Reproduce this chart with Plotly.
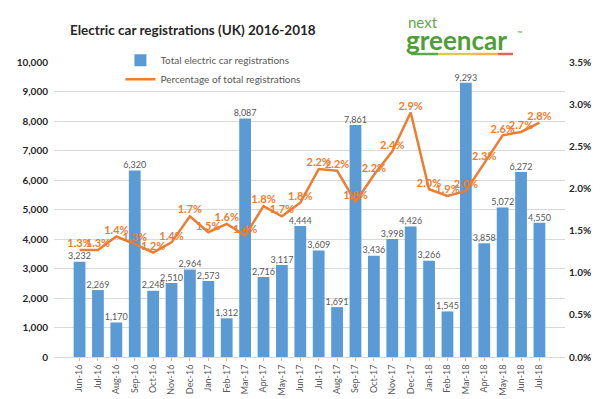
import plotly.graph_objects as go

months = ["Jun-16", "Jul-16", "Aug-16", "Sep-16", "Oct-16", "Nov-16", "Dec-16",
          "Jan-17", "Feb-17", "Mar-17", "Apr-17", "May-17", "Jun-17", "Jul-17",
          "Aug-17", "Sep-17", "Oct-17", "Nov-17", "Dec-17", "Jan-18", "Feb-18",
          "Mar-18", "Apr-18", "May-18", "Jun-18", "Jul-18"]
registrations = [3232, 2269, 1170, 6320, 2248, 2510, 2964, 2573, 1312, 8087,
                 2716, 3117, 4444, 3609, 1691, 7861, 3436, 3998, 4426, 3266,
                 1545, 9293, 3858, 5072, 6272, 4550]
percentage = [1.27, 1.27, 1.43, 1.34, 1.24, 1.36, 1.67, 1.48, 1.58, 1.44,
              1.79, 1.67, 1.83, 2.23, 2.21, 1.84, 2.16, 2.44, 2.90, 1.99,
              1.91, 1.97, 2.30, 2.63, 2.67, 2.78]
left_ticks = list(range(0, 10001, 1000))
right_ticks = [0.0, 0.5, 1.0, 1.5, 2.0, 2.5, 3.0, 3.5]

FONT = "Lato"
BLUE = "#5B9BD5"
ORANGE = "#ED7D31"

fig = go.Figure()
fig.add_trace(go.Bar(
    x=months, y=registrations, name="Total electric car registrations",
    marker=dict(color=BLUE, line=dict(width=0)), yaxis="y",
))
fig.add_trace(go.Scatter(
    x=months, y=registrations, mode="text", showlegend=False, hoverinfo="skip",
    text=[f"{v:,}" for v in registrations], textposition="top center",
    textfont=dict(size=9, color="#595959", family=FONT),
    cliponaxis=False, yaxis="y",
))
fig.add_trace(go.Scatter(
    x=months, y=percentage, name="Percentage of total registrations",
    mode="lines+text", line=dict(color=ORANGE, width=2.5),
    text=[f"{v:.1f}%" for v in percentage], textposition="top center",
    textfont=dict(size=11, color=ORANGE, family=FONT, weight="bold"),
    cliponaxis=False, yaxis="y2",
))

fig.update_layout(
    width=600, height=399,
    margin=dict(l=46, r=43, t=54, b=50, autoexpand=False),
    paper_bgcolor="white", plot_bgcolor="white",
    font=dict(family=FONT, color="#404040"),
    bargap=0.36,
    showlegend=True,
    legend=dict(x=0.13, y=1.055, xanchor="left", yanchor="top",
                bgcolor="rgba(0,0,0,0)", font=dict(size=10, color="#595959", family=FONT),
                tracegroupgap=0, itemwidth=30),
    xaxis=dict(type="category", tickangle=-90, tickfont=dict(size=9, color="#595959"),
               showgrid=False, showline=True, linecolor="#D9D9D9", linewidth=1,
               ticks="outside", ticklen=3, tickcolor="#F4B183", automargin=False),
    yaxis=dict(range=[0, 10000], tickvals=left_ticks, tickformat=",d",
               showgrid=True, gridcolor="#D9D9D9", gridwidth=1, zeroline=False,
               tickfont=dict(size=10, color="#262626", weight="bold"), automargin=False,
               ticks="", ticklabelstandoff=5),
    yaxis2=dict(range=[0, 3.5], tickvals=right_ticks,
                ticktext=[f"{v:.1f}%" for v in right_ticks],
                overlaying="y", side="right", showgrid=False, zeroline=False,
                tickfont=dict(size=10, color="#262626", weight="bold"), automargin=False,
                ticks="", ticklabelstandoff=3),
)

fig.add_annotation(text="Electric car registrations (UK) 2016-2018", xref="paper", yref="paper",
                   x=(60 - 46) / 511, y=(349 - 22) / 295, xanchor="left", yanchor="middle",
                   showarrow=False,
                   font=dict(size=13.5, color="#262626", family=FONT, weight="bold"))
# logo text
fig.add_annotation(text="next", xref="paper", yref="paper", x=(398 - 46) / 511, y=(349 - 14) / 295,
                   xanchor="left", yanchor="middle", showarrow=False,
                   font=dict(size=15, color="#5DA84A", family=FONT))
fig.add_annotation(text="<b>greencar</b>", xref="paper", yref="paper", x=(396 - 46) / 511, y=(349 - 32) / 295,
                   xanchor="left", yanchor="middle", showarrow=False,
                   font=dict(size=26, color="#4E9E3A", family=FONT))
fig.add_annotation(text="™", xref="paper", yref="paper", x=(507 - 46) / 511, y=(349 - 25) / 295,
                   xanchor="left", yanchor="middle", showarrow=False,
                   font=dict(size=7, color="#4E9E3A", family=FONT))
seg_colors = ["#5DA84A", "#D8CE4A", "#EFB54A", "#E0655A"]
seg_edges = [403, 430, 465, 490, 505]
for i, c in enumerate(seg_colors):
    fig.add_shape(type="line", xref="paper", yref="paper",
                  x0=(seg_edges[i] - 46) / 511, x1=(seg_edges[i + 1] - 46) / 511,
                  y0=(349 - 46) / 295, y1=(349 - 46) / 295,
                  line=dict(color=c, width=2.5))

fig.write_html("out.html")
